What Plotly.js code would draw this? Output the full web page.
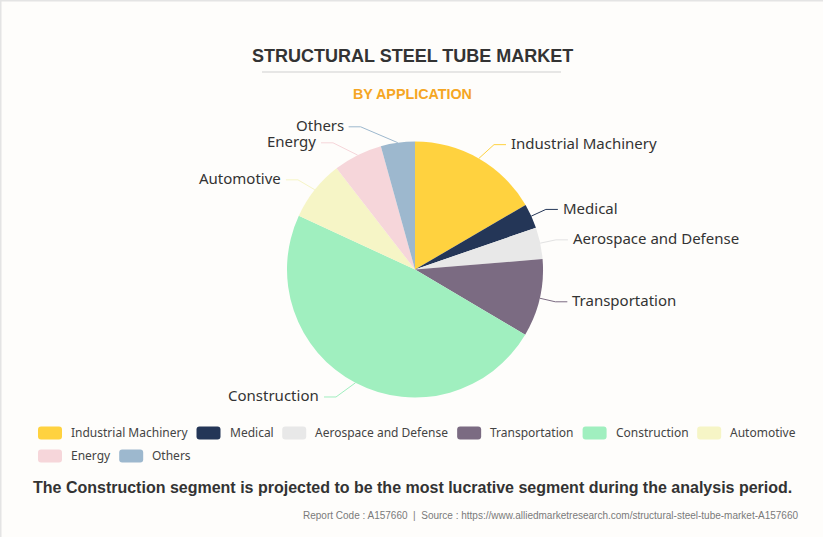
<!DOCTYPE html>
<html>
<head>
<meta charset="utf-8">
<script src="https://cdn.plot.ly/plotly-3.0.1.min.js"></script>
<style>
html,body{margin:0;padding:0;background:#FEFDFB;}
#chart{width:823px;height:537px;}
</style>
</head>
<body>
<div id="chart"></div>
<script>
// ---- data ----
const categories = ["Industrial Machinery","Medical","Aerospace and Defense","Transportation","Construction","Automotive","Energy","Others"];
const shares = [16.6, 3.1, 4.0, 9.8, 48.4, 7.6, 6.2, 4.3];
const sliceColors = ["#FFD23F","#243657","#E8E8E8","#7B6B82","#A0EFBF","#F6F5C6","#F6D6DA","#9DB8CE"];
const titleText = "STRUCTURAL STEEL TUBE MARKET";
const subtitleText = "BY APPLICATION";
const footnoteText = "The Construction segment is projected to be the most lucrative segment during the analysis period.";
const sourceText = "Report Code : A157660  |  Source : https://www.alliedmarketresearch.com/structural-steel-tube-market-A157660";

// ---- layout constants ----
const W = 823, H = 537;
const cx = 415, cy = 269.5, R = 128;
const LEN = 16, LEN2 = 12, TXTGAP = 3, LABEL_H = 16, MIN_DX = 79;
const px = x => x / W, py = y => 1 - y / H;

const shapes = [];
const annotations = [];

// page edge (light frame on top/left)
shapes.push({type:'line', xref:'paper', yref:'paper', x0:0, x1:1, y0:py(0.5), y1:py(0.5), line:{color:'#E4E4E4', width:2}});
shapes.push({type:'line', xref:'paper', yref:'paper', x0:px(0.5), x1:px(0.5), y0:0, y1:1, line:{color:'#E4E4E4', width:2}});

// titles
annotations.push({xref:'paper', yref:'paper', x:px(412), y:py(56), xanchor:'center', yanchor:'middle', showarrow:false,
  text:'<b>'+titleText+'</b>', font:{family:'Liberation Sans, Arial, sans-serif', size:18, color:'#333333'}});
shapes.push({type:'line', xref:'paper', yref:'paper', x0:px(262), x1:px(561), y0:py(72), y1:py(72), line:{color:'#CFCFCF', width:1}});
annotations.push({xref:'paper', yref:'paper', x:px(412), y:py(94), xanchor:'center', yanchor:'middle', showarrow:false,
  text:'<b>'+subtitleText+'</b>', font:{family:'Liberation Sans, Arial, sans-serif', size:14.3, color:'#F5A623'}});

// ---- outside labels with leader lines (computed from the shares) ----
const total = shares.reduce((a,b)=>a+b,0);
let acc = 0;
const items = shares.map((v,i)=>{
  const a0 = acc/total*2*Math.PI; acc += v;
  const a1 = acc/total*2*Math.PI;
  const m = (a0+a1)/2, s = Math.sin(m), c = Math.cos(m);
  return {i, dir: s>=0?1:-1, onEllipse:false,
    edge:[cx+R*s, cy-R*c],
    elbow:[cx+(R+LEN)*s, cy-(R+LEN)*c]};
});
[1,-1].forEach(dir=>{
  const side = items.filter(it=>it.dir===dir).sort((a,b)=>a.elbow[1]-b.elbow[1]);
  let shifted = false;
  for (let k=1;k<side.length;k++){
    if (side[k].elbow[1] < side[k-1].elbow[1]+LABEL_H){ side[k].elbow[1] = side[k-1].elbow[1]+LABEL_H; shifted = true; }
  }
  if (shifted){
    const top = side.filter(it=>it.elbow[1]<cy);
    if (top.length){
      const maxDy = Math.max(...top.map(it=>cy-it.elbow[1]));
      const rB = maxDy*1.08, rA = R+LEN;
      top.forEach(it=>{
        const dy = cy-it.elbow[1];
        const dx = rA*Math.sqrt(Math.max(0,1-dy*dy/(rB*rB)));
        it.elbow[0] = cx + dir*dx;
        it.onEllipse = true;
      });
    }
  }
});
items.forEach(it=>{
  if (!it.onEllipse && Math.abs(it.elbow[0]-cx) < MIN_DX) it.elbow[0] = cx + it.dir*MIN_DX;
  const col = sliceColors[it.i];
  const end = [it.elbow[0]+it.dir*LEN2, it.elbow[1]];
  shapes.push({type:'path', xref:'paper', yref:'paper',
    path:`M${px(it.edge[0])},${py(it.edge[1])} L${px(it.elbow[0])},${py(it.elbow[1])} L${px(end[0])},${py(end[1])}`,
    line:{color: col==="#E8E8E8" ? "#E2E2E2" : col, width:1}});
  annotations.push({xref:'paper', yref:'paper', x:px(end[0]+it.dir*TXTGAP), y:py(end[1]-1.5),
    xanchor: it.dir>0?'left':'right', yanchor:'middle', showarrow:false,
    text: categories[it.i], font:{family:'Noto Sans, Open Sans, sans-serif', size:15, color:'#333333'}});
});

// ---- legend (built from categories/colours) ----
const legSize = 12;
const ctx = document.createElement('canvas').getContext('2d');
ctx.font = legSize + "px 'Noto Sans'";
let lx = 38, ly = 433;
const ICON_W = 24, ICON_H = 13, ICON_GAP = 7, ITEM_GAP = 11, ROW_H = 23, MAXX = 805;
categories.forEach((cat,i)=>{
  const tw = ctx.measureText(cat).width;
  if (lx + ICON_W + ICON_GAP + tw > MAXX){ lx = 38; ly += ROW_H; }
  const x0 = lx, x1 = lx+ICON_W, y0 = ly-ICON_H/2, y1 = ly+ICON_H/2, r = 3;
  const path = `M${px(x0+r)},${py(y0)} L${px(x1-r)},${py(y0)} Q${px(x1)},${py(y0)} ${px(x1)},${py(y0+r)} L${px(x1)},${py(y1-r)} Q${px(x1)},${py(y1)} ${px(x1-r)},${py(y1)} L${px(x0+r)},${py(y1)} Q${px(x0)},${py(y1)} ${px(x0)},${py(y1-r)} L${px(x0)},${py(y0+r)} Q${px(x0)},${py(y0)} ${px(x0+r)},${py(y0)} Z`;
  shapes.push({type:'path', xref:'paper', yref:'paper', path, fillcolor:sliceColors[i], line:{width:0}});
  annotations.push({xref:'paper', yref:'paper', x:px(x1+ICON_GAP), y:py(ly-0.5), xanchor:'left', yanchor:'middle', showarrow:false,
    text:cat, font:{family:'Noto Sans, sans-serif', size:legSize, color:'#444444'}});
  lx = x1 + ICON_GAP + tw + ITEM_GAP;
});

// footnote + source
annotations.push({xref:'paper', yref:'paper', x:px(412), y:py(487), xanchor:'center', yanchor:'middle', showarrow:false,
  text:'<b>'+footnoteText+'</b>', font:{family:'Liberation Sans, Arial, sans-serif', size:16, color:'#333333'}});
annotations.push({xref:'paper', yref:'paper', x:px(800), y:py(515), xanchor:'right', yanchor:'middle', showarrow:false,
  text:sourceText.replace(/ {2}/g,'&nbsp; '), font:{family:'Liberation Sans, Arial, sans-serif', size:10, color:'#7A7A7A'}});

const trace = {
  type:'pie', labels:categories, values:shares, sort:false, direction:'clockwise', rotation:0,
  marker:{colors:sliceColors, line:{width:0}}, textinfo:'none', hoverinfo:'none', showlegend:false,
  domain:{x:[px(cx-R), px(cx+R)], y:[py(cy+R), py(cy-R)]}
};
Plotly.newPlot('chart',[trace],{
  width:W, height:H, margin:{l:0,r:0,t:0,b:0},
  paper_bgcolor:'#FEFDFB', plot_bgcolor:'#FEFDFB',
  showlegend:false, shapes, annotations
},{displayModeBar:false, staticPlot:true});
</script>
</body>
</html>
